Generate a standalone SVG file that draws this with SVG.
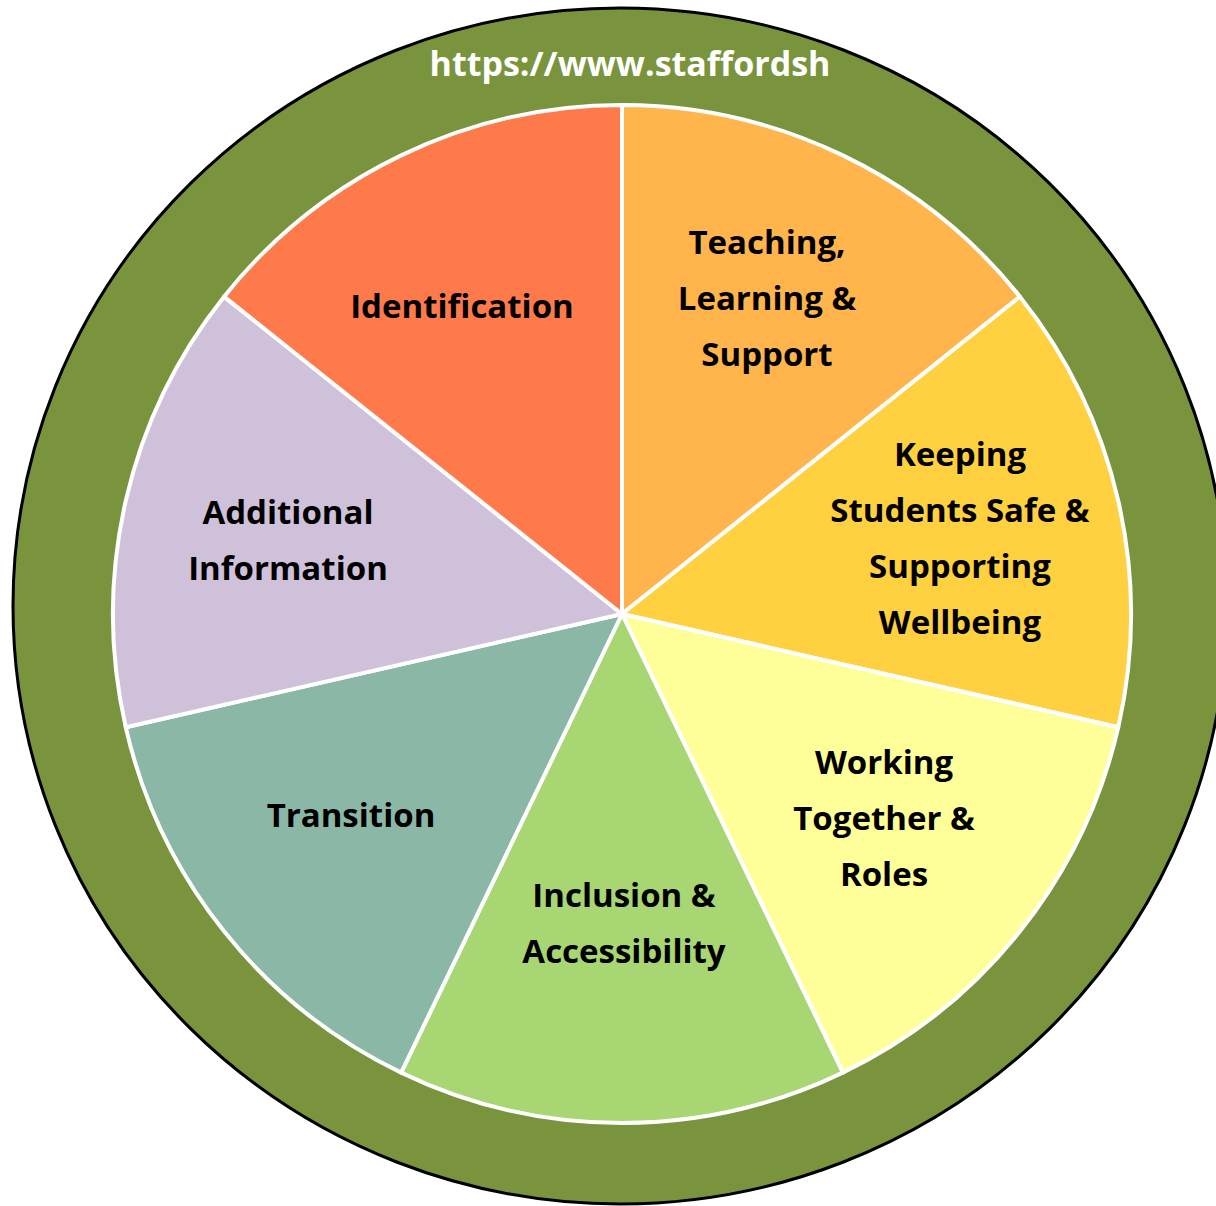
<svg xmlns="http://www.w3.org/2000/svg" width="1216" height="1206" viewBox="0 0 1216 1206">
  <style>
    .slice { stroke: #ffffff; stroke-width: 4; stroke-linejoin: round; }
    .lbl { font-family: "Open Sans", "Liberation Sans", sans-serif; font-weight: bold; font-size: 33px; fill: #000000; text-anchor: middle; }
    .url { font-family: "Open Sans", "Liberation Sans", sans-serif; font-weight: bold; font-size: 34px; fill: #ffffff; text-anchor: middle; }
  </style>
  <rect x="0" y="0" width="1216" height="1206" fill="#ffffff"/>
  <g id="ring">
    <ellipse cx="620" cy="606" rx="607" ry="598" fill="#79943C" stroke="#000000" stroke-width="3"/>
    <text class="url" x="630" y="76">https://www.staffordsh</text>
  </g>
  <g id="teaching">
    <path class="slice" fill="#FFB54C" d="M622,614 L622,105 A509,509 0 0 1 1019.95,296.64 Z"/>
    <text class="lbl" x="767" y="254">Teaching,</text>
    <text class="lbl" x="767" y="310">Learning &amp;</text>
    <text class="lbl" x="767" y="366">Support</text>
  </g>
  <g id="keeping">
    <path class="slice" fill="#FFD03F" d="M622,614 L1019.95,296.64 A509,509 0 0 1 1118.24,727.26 Z"/>
    <text class="lbl" x="960" y="466">Keeping</text>
    <text class="lbl" x="960" y="522">Students Safe &amp;</text>
    <text class="lbl" x="960" y="578">Supporting</text>
    <text class="lbl" x="960" y="634">Wellbeing</text>
  </g>
  <g id="working">
    <path class="slice" fill="#FFFF99" d="M622,614 L1118.24,727.26 A509,509 0 0 1 842.85,1072.59 Z"/>
    <text class="lbl" x="884" y="774">Working</text>
    <text class="lbl" x="884" y="830">Together &amp;</text>
    <text class="lbl" x="884" y="886">Roles</text>
  </g>
  <g id="inclusion">
    <path class="slice" fill="#A8D672" d="M622,614 L842.85,1072.59 A509,509 0 0 1 401.15,1072.59 Z"/>
    <text class="lbl" x="624" y="907">Inclusion &amp;</text>
    <text class="lbl" x="624" y="963">Accessibility</text>
  </g>
  <g id="transition">
    <path class="slice" fill="#8AB7A6" d="M622,614 L401.15,1072.59 A509,509 0 0 1 125.76,727.26 Z"/>
    <text class="lbl" x="351" y="827">Transition</text>
  </g>
  <g id="additional">
    <path class="slice" fill="#CFC1DA" d="M622,614 L125.76,727.26 A509,509 0 0 1 224.05,296.64 Z"/>
    <text class="lbl" x="288" y="524">Additional</text>
    <text class="lbl" x="288" y="580">Information</text>
  </g>
  <g id="identification">
    <path class="slice" fill="#FF7A4B" d="M622,614 L224.05,296.64 A509,509 0 0 1 622,105 Z"/>
    <text class="lbl" x="462" y="318">Identification</text>
  </g>
  <g id="connectors"/>
</svg>
